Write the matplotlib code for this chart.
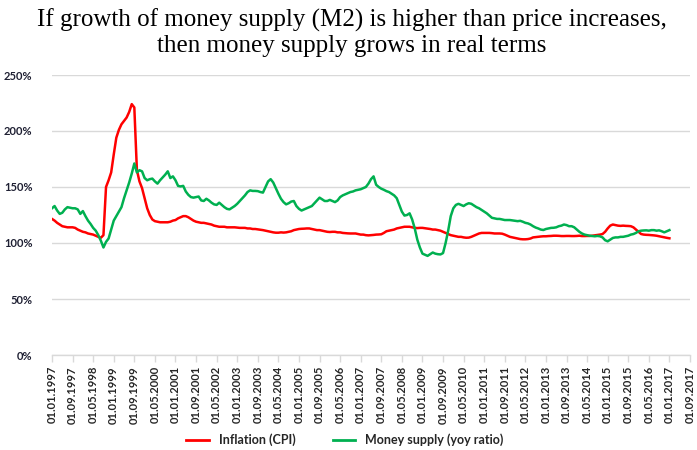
import matplotlib
matplotlib.use("Agg")
import matplotlib.pyplot as plt
import pandas as pd

# ---- data (monthly, starting Jan 1997), values in % (year-over-year ratio) ----
start_month = "1997-01-01"
axis_end_month = "2017-09-01"
tick_step_months = 8

inflation_cpi = [
    121.5, 120, 118, 116.5, 115, 114.5, 114, 114, 114, 113.5, 112, 111,
    110, 109.5, 108.5, 108, 107.5, 106.5, 105.5, 104.7, 107, 150, 156, 163,
    179, 194, 201, 206, 209, 212, 217, 224, 221, 165, 155, 149,
    140, 131, 125, 121, 119.5, 119, 118.5, 118.5, 118.5, 118.5, 119,
    120, 120.5, 122, 123, 124, 124, 123, 121.5, 120, 119, 118.5, 118,
    118, 117.5, 117, 116.5, 115.5, 115, 114.5, 114.5, 114.5, 114, 114, 114,
    114, 113.7, 113.5, 113.5, 113.5, 113, 113, 112.5, 112.5, 112.2, 112, 111.5,
    111, 110.5, 110, 109.5, 109.2, 109.2, 109.5, 109.3, 109.5, 110, 110.5, 111.5,
    112, 112.5, 112.7, 112.8, 113, 113, 112.5, 112, 111.5, 111.5, 111, 110.5,
    110, 109.8, 110, 110, 109.5, 109.5, 109, 108.8, 108.6, 108.5, 108.5, 108.5,
    108, 107.5, 107.5, 107, 106.8, 107, 107.2, 107.5, 107.6, 107.8, 109, 110.5,
    111, 111.5, 112, 113, 113.5, 114, 114.5, 114.5, 114.5, 114, 113.5,
    113.3, 113.5, 113.5, 113.2, 113, 112.5, 112, 112, 111.5, 111, 110, 109,
    108, 107, 106.5, 106, 105.5, 105.5, 105, 104.7, 104.8, 105.5, 106.5, 107.5,
    108.5, 109, 109, 109, 109, 108.8, 108.5, 108.5, 108.5, 108.3, 107.5, 106.5,
    105.5, 105, 104.5, 104, 103.5, 103.3, 103.3, 103.5, 104, 105, 105.3, 105.5,
    105.8, 106, 106, 106.2, 106.3, 106.5, 106.5, 106.4, 106.2, 106.2, 106.3, 106.3,
    106.2, 106.2, 106.3, 106.5, 106.2, 106.2, 106.3, 106.3, 106.5, 106.8, 107.2, 107.5,
    108, 110, 113, 115.5, 116.5, 116, 115.5, 115.3, 115.5, 115.3, 115.2, 115,
    114, 112, 110, 108, 107.5, 107.3, 107.2, 107, 106.8, 106.5, 106,
    105.5, 105, 104.6, 104.2,
]

money_supply = [
    131, 133, 129, 126, 127, 130, 132, 131.5, 131, 131, 130, 126,
    128.5, 124, 120, 117, 113.5, 111, 107, 102, 96, 101, 104, 112,
    120, 124, 128, 132, 140, 147, 154, 162, 171, 163, 165, 164,
    158, 156, 157, 157.5, 155, 153, 156, 158.5, 161, 164, 158,
    159.5, 156, 151, 150.5, 151, 146, 143, 141, 140.5, 141, 141.5, 138,
    137.5, 139.5, 138, 136, 134.5, 134, 136, 134, 132, 130.5, 130, 131.5,
    133, 135, 137.5, 140, 142.5, 145.5, 147, 146.5, 146.5, 146.3, 145.5, 145,
    150, 155, 157, 154, 149, 144, 139.5, 136.5, 134.5, 135.5, 137, 137.5,
    133, 130.5, 129, 130, 131, 132, 133, 135.5, 138, 140.5, 139, 137.5,
    137.5, 138.5, 137.5, 136.5, 138, 141, 142.5, 143.5, 144.5, 145.5, 146, 147,
    147.5, 148, 149, 150, 153, 157, 159.5, 152, 150, 148.5, 147.5, 146.3,
    145.5, 144, 142.5, 140, 134, 128, 124.5, 125, 126.5, 121, 113,
    103, 96, 90.5, 89.5, 88.5, 90, 91.5, 90.5, 90, 89.8, 91, 100,
    111, 124, 131, 134, 135, 134, 133, 134.5, 135.5, 135, 133.5, 132,
    131, 129.5, 128, 126.5, 124.5, 122.5, 122, 121.5, 121.5, 121, 120.5, 120.5,
    120.5, 120.2, 120, 119.5, 119.8, 119, 118, 117.5, 116.5, 115, 113.8, 113,
    112, 111.6, 112.5, 113, 113.5, 113.6, 114, 115, 115.5, 116.5, 116, 115,
    115, 114, 112, 110, 108.5, 107.5, 107, 106.5, 106.2, 106, 106.3, 106,
    105, 102.5, 101.5, 103, 104.5, 105, 105, 105.5, 105.5, 106, 106.5, 107.5,
    108, 109, 110.5, 111, 111.2, 111.3, 111, 111.5, 111.5, 111, 111.3,
    110.5, 109.5, 110.5, 111.5,
]

series_labels = ["Inflation (CPI)", "Money supply (yoy ratio)"]
series_colors = ["#ff0000", "#00b050"]
y_ticks = [0, 50, 100, 150, 200, 250]
title_text = ("If growth of money supply (M2) is higher than price increases,\n"
              "then money supply grows in real terms")

# ---- build category axis (months) ----
all_months = pd.date_range(start_month, axis_end_month, freq="MS")
month_labels = [d.strftime("%d.%m.%Y") for d in all_months]
n_axis = len(all_months)

plt.rcParams["font.family"] = ["Lato", "DejaVu Sans"]

fig = plt.figure(figsize=(6.97, 4.5), dpi=100)
ax = fig.add_axes([52 / 697, 1 - 355 / 450, 638 / 697, 280 / 450])

x_infl = list(range(len(inflation_cpi)))
x_m2 = list(range(len(money_supply)))
ax.plot(x_infl, inflation_cpi, color=series_colors[0], lw=1.8,
        label=series_labels[0], solid_joinstyle="round")
ax.plot(x_m2, money_supply, color=series_colors[1], lw=1.8,
        label=series_labels[1], solid_joinstyle="round")

ax.set_xlim(0, n_axis - 1)
ax.set_ylim(0, 250)

tick_pos = list(range(0, n_axis, tick_step_months))
ax.set_xticks(tick_pos)
ax.set_xticklabels([month_labels[i] for i in tick_pos], rotation=90,
                   fontsize=8, fontweight="bold", color="#262626")
ax.set_yticks(y_ticks)
ax.set_yticklabels([f"{v}%" for v in y_ticks], fontsize=8,
                   fontweight="bold", color="#1f2033")

ax.grid(axis="y", color="#d9d9d9", lw=1)
ax.set_axisbelow(True)
for s in ["top", "right", "left"]:
    ax.spines[s].set_visible(False)
ax.spines["bottom"].set_color("#d9d9d9")
ax.spines["bottom"].set_linewidth(1)
ax.tick_params(axis="y", length=0, pad=14)
ax.tick_params(axis="x", length=5, color="#d9d9d9", width=1, pad=3)

fig.text(0.505, 1 - 33 / 450, title_text, ha="center", va="center",
         fontsize=18, family="Liberation Serif", color="#000000",
         linespacing=1.2)

leg = fig.legend(loc="center", bbox_to_anchor=(345 / 697, 1 - 440 / 450),
                 ncol=2, frameon=False, handlelength=1.8, columnspacing=3.0,
                 prop={"weight": "bold", "size": 9})
for t in leg.get_texts():
    t.set_color("#262626")
for h in leg.get_lines():
    h.set_linewidth(2)

fig.savefig("out.png", dpi=100)
